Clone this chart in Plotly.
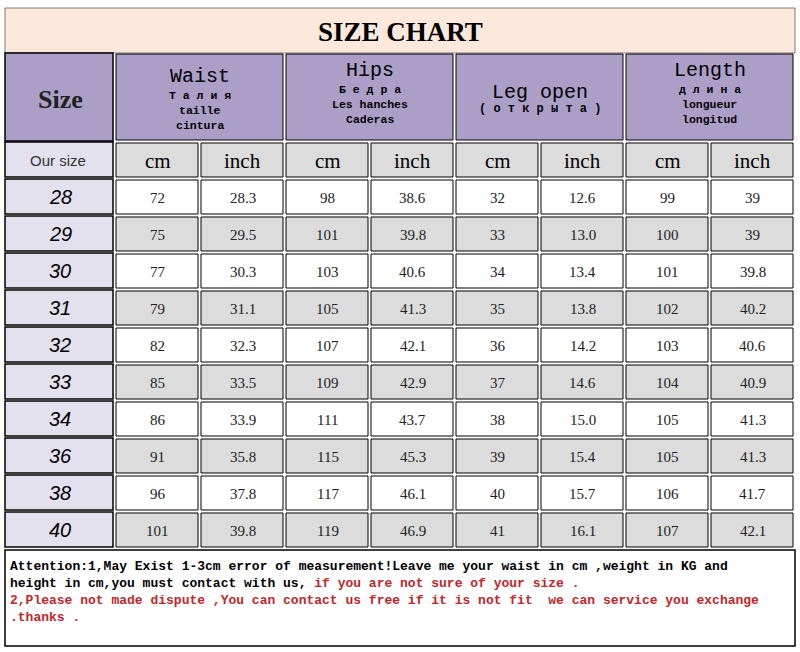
import plotly.graph_objects as go

sizes = ["28", "29", "30", "31", "32", "33", "34", "36", "38", "40"]
waist_cm = ["72", "75", "77", "79", "82", "85", "86", "91", "96", "101"]
waist_in = ["28.3", "29.5", "30.3", "31.1", "32.3", "33.5", "33.9", "35.8", "37.8", "39.8"]
hips_cm = ["98", "101", "103", "105", "107", "109", "111", "115", "117", "119"]
hips_in = ["38.6", "39.8", "40.6", "41.3", "42.1", "42.9", "43.7", "45.3", "46.1", "46.9"]
leg_cm = ["32", "33", "34", "35", "36", "37", "38", "39", "40", "41"]
leg_in = ["12.6", "13.0", "13.4", "13.8", "14.2", "14.6", "15.0", "15.4", "15.7", "16.1"]
len_cm = ["99", "100", "101", "102", "103", "104", "105", "105", "106", "107"]
len_in = ["39", "39", "39.8", "40.2", "40.6", "40.9", "41.3", "41.3", "41.7", "42.1"]
groups = [
    ("Waist", ["Талия", "taille", "cintura"]),
    ("Hips", ["Бедра", "Les hanches", "Caderas"]),
    ("Leg open", ["(открыта)"]),
    ("Length", ["длина", "longueur", "longitud"]),
]
units = ["cm", "inch"]
columns = [waist_cm, waist_in, hips_cm, hips_in, leg_cm, leg_in, len_cm, len_in]

PURPLE = "#ab9fc8"
LAV = "#e4e1ef"
GRAY = "#dcdcdc"
SERIF = "Liberation Serif"
MONO = "Liberation Mono"

fig = go.Figure()
shapes, anns = [], []


def box(x0, y0, x1, y1, fill, lw=1):
    shapes.append(dict(type="rect", x0=x0, y0=y0, x1=x1, y1=y1, fillcolor=fill,
                       line=dict(color="black", width=lw), layer="below"))


def text(x, y, s, size, family, color="black", **kw):
    anns.append(dict(x=x, y=y, text=s, showarrow=False, xanchor="center", yanchor="middle",
                     font=dict(size=size, family=family, color=color), **kw))


# title band
box(5, 8, 795, 53, "#fde9dc", 0.5)
text(400, 32, "<b>SIZE CHART</b>", 27, SERIF)

# header
col_x = [115, 200, 285, 370, 455, 540, 625, 710, 795]
box(5, 53, 113, 141, PURPLE, 1.5)
text(60, 99, "<b>Size</b>", 26, SERIF, "#222")
for g, (name, subs) in enumerate(groups):
    x0, x1 = col_x[2 * g] + 1, col_x[2 * g + 2] - 2
    box(x0, 54, x1, 140, PURPLE)
    cx = (x0 + x1) / 2
    if len(subs) == 1:
        text(cx, 92, name, 20, MONO)
        text(cx, 109, "<b>" + " ".join(subs[0]) + "</b>", 12, MONO)
    else:
        text(cx, 70 if g != 0 else 76, name, 20, MONO)
        lines = ["<b>" + (" ".join(subs[0])) + "</b>"] + ["<b>" + s + "</b>" for s in subs[1:]]
        base = 89 if g != 0 else 95
        for i, s in enumerate(lines):
            text(cx, base + 15 * i, s, 11.5, MONO)

# unit row
box(5, 142, 113, 177, LAV, 1.5)
text(58, 160, "Our size", 15, "Liberation Sans", "#333")
for c in range(8):
    box(col_x[c] + 1, 143, col_x[c + 1] - 2, 177, GRAY)
    text((col_x[c] + col_x[c + 1]) / 2, 161, units[c % 2], 21, SERIF)

# data rows
row_h = 37
for r, s in enumerate(sizes):
    y0 = 179 + r * row_h
    y1 = y0 + row_h - 2
    box(5, y0, 113, y1, LAV, 1.5)
    text(60, (y0 + y1) / 2, "<i>" + s + "</i>", 20, "Liberation Sans")
    fill = "white" if r % 2 == 0 else GRAY
    for c, col in enumerate(columns):
        box(col_x[c] + 1, y0 + 1, col_x[c + 1] - 2, y1, fill)
        text((col_x[c] + col_x[c + 1]) / 2, (y0 + y1) / 2 + 1, col[r], 15, SERIF, "#222")

# note box
box(5, 550, 795, 646, "white", 1.5)
note = ("<b>Attention:1,May Exist 1-3cm error of measurement!Leave me your waist in cm ,weight in KG and<br>"
        "height in cm,you must contact with us, <span style='color:#c0262a'>if you are not sure of your size .</span><br>"
        "<span style='color:#c0262a'>2,Please not made dispute ,You can contact us free if it is not fit  we can service you exchange<br>"
        ".thanks .</span></b>")
anns.append(dict(x=8, y=557, text=note, showarrow=False, xanchor="left", yanchor="top", align="left",
                 font=dict(size=13, family=MONO, color="black")))

fig.update_layout(
    width=800, height=652, margin=dict(l=0, r=0, t=0, b=0),
    paper_bgcolor="white", plot_bgcolor="white",
    xaxis=dict(range=[0, 800], visible=False, fixedrange=True),
    yaxis=dict(range=[652, 0], visible=False, fixedrange=True),
    shapes=shapes, annotations=anns, showlegend=False,
)
fig.write_html("out.html", config={"displayModeBar": False},
               post_script="document.body.style.margin='0';")
